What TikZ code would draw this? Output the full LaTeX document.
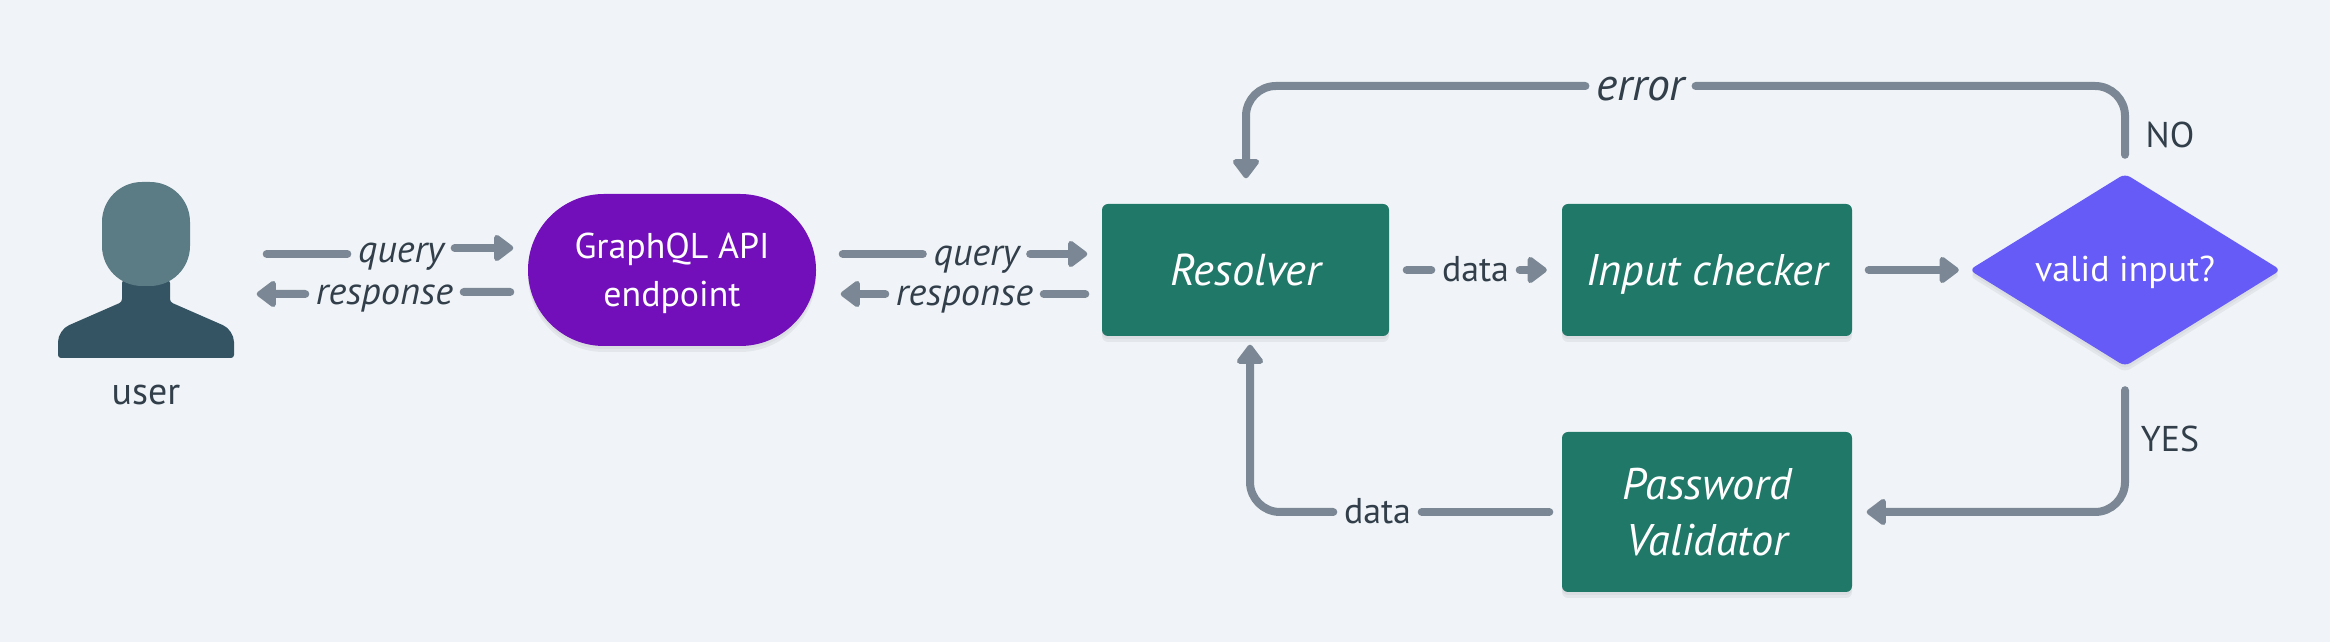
\documentclass[tikz,border=0pt]{standalone}
\usepackage{fontspec}
\setmainfont{PT Sans}
\usetikzlibrary{arrows.meta,shapes.geometric,shadows,calc}
\definecolor{bgcol}{HTML}{F0F4F8}
\definecolor{linecol}{HTML}{7B8794}
\definecolor{txtcol}{HTML}{323F4B}
\definecolor{boxcol}{HTML}{207868}
\definecolor{apicol}{HTML}{720EBA}
\definecolor{deccol}{HTML}{675BF7}
\definecolor{headcol}{HTML}{5B7B85}
\definecolor{bodycol}{HTML}{345363}
\tikzset{
softshadow/.style={general shadow={fill=black,opacity=.05,shadow yshift=-.06cm},general shadow={fill=black,opacity=.04,shadow yshift=-.03cm}},
procbox/.style={fill=boxcol,text=white,rounded corners=.06cm,align=center,softshadow,font=\fontsize{12.6}{15.9}\selectfont\itshape},
flowline/.style={line width=.08cm,linecol,line cap=round},
flowtip/.style={flowline,-{Triangle[length=.21cm,width=.30cm,round]}},
edgelab/.style={text=txtcol,inner xsep=.1cm,inner ysep=0pt,text height=.24cm,text depth=0pt,font=\fontsize{10.2}{12}\selectfont},
itlab/.style={edgelab,font=\fontsize{10.9}{12}\selectfont\itshape},
sidelab/.style={text=txtcol,font=\fontsize{10.2}{12}\selectfont}
}
\begin{document}
\begin{tikzpicture}[x=1cm,y=-1cm,line join=round]
\fill[bgcol] (0,0) rectangle (23.3,6.42);
\useasboundingbox (0,0) rectangle (23.3,6.42);
% user
\fill[bodycol,rounded corners=.03cm] (1.22,2.8) -- (1.22,3.02) [rounded corners=.12cm] -- (.58,3.30) [rounded corners=.03cm] -- (.58,3.58) -- (2.34,3.58) [rounded corners=.12cm] -- (2.34,3.30) [rounded corners=.03cm] -- (1.70,3.02) -- (1.70,2.8) -- cycle;
\fill[headcol,rounded corners=.4cm] (1.02,1.82) rectangle (1.90,2.86);
\node[minimum width=1.76cm,minimum height=1.76cm] (person) at (1.46,2.70) {};
\node[sidelab,font=\fontsize{10.8}{12}\selectfont] (usr) at (1.46,3.95) {user};
% nodes
\node[fill=apicol,text=white,rounded corners=.76cm,minimum width=2.88cm,minimum height=1.52cm,align=center,text depth=0pt,softshadow,font=\fontsize{10.2}{13.66}\selectfont] (api) at (6.72,2.70) {GraphQL API\\endpoint};
\node[procbox,text height=.32cm,text depth=0pt,font=\fontsize{12.7}{15.9}\selectfont\itshape,minimum width=2.87cm,minimum height=1.32cm] (res) at (12.455,2.70) {Resolver};
\node[procbox,text height=.32cm,text depth=0pt,minimum width=2.90cm,minimum height=1.32cm] (chk) at (17.07,2.70) {Input checker};
\node[procbox,minimum width=2.90cm,minimum height=1.60cm] (pwd) at (17.07,5.12) {Password\\Validator};
\node[diamond,aspect=1.617,fill=deccol,text=white,inner sep=0pt,text height=.24cm,text depth=0pt,rounded corners=.06cm,minimum width=3.12cm,minimum height=1.93cm,softshadow,font=\fontsize{10.2}{12}\selectfont] (dec) at (21.25,2.70) {valid input?};
% labels on the connectors
\node[itlab] (lq1) at (4.01,2.51) {query};
\node[itlab] (lr1) at (3.845,2.93) {response};
\node[itlab] (lq2) at (9.765,2.54) {query};
\node[itlab] (lr2) at (9.645,2.94) {response};
\node[edgelab] (ld1) at (14.755,2.70) {data};
\node[edgelab] (ld2) at (13.775,5.12) {data};
\node[itlab,text height=.30cm,font=\fontsize{13}{14}\selectfont\itshape] (lerr) at (16.405,.86) {error};
\node[sidelab] (lno) at (21.70,1.35) {NO};
\node[sidelab] (lyes) at (21.70,4.39) {YES};
% connectors
\draw[flowline,shorten <=.32cm] ([yshift=.16cm]person.east) -- ([yshift=-.03cm]lq1.west);
\draw[flowtip,shorten >=.14cm] ([yshift=.03cm]lq1.east) -- ([yshift=.22cm]api.west);
\draw[flowtip,shorten >=.22cm] ([yshift=-.01cm]lr1.west) -- ([yshift=-.24cm]person.east);
\draw[flowline,shorten >=.17cm] ([yshift=.01cm]lr1.east) -- ([yshift=-.22cm]api.west);
\draw[flowline,shorten <=.26cm] ([yshift=.16cm]api.east) -- (lq2);
\draw[flowtip,shorten >=.14cm] (lq2) -- ([yshift=.16cm]res.west);
\draw[flowtip,shorten >=.24cm] (lr2) -- ([yshift=-.24cm]api.east);
\draw[flowline,shorten >=.16cm] (lr2) -- ([yshift=-.24cm]res.west);
\draw[flowline,shorten <=.17cm] (res) -- (ld1);
\draw[flowtip,shorten >=.145cm] (ld1) -- (chk);
\draw[flowtip,shorten <=.16cm,shorten >=.095cm] (chk) -- (dec);
\draw[flowline,rounded corners=.3cm,shorten <=.18cm] (dec.north) -- (21.25,.86) -- (lerr);
\draw[flowtip,rounded corners=.3cm,shorten >=.25cm] (lerr) -- (12.46,.86) -- ([xshift=.005cm]res.north);
\draw[flowtip,rounded corners=.3cm,shorten <=.23cm,shorten >=.14cm] (dec.south) -- (21.25,5.12) -- (pwd.east);
\draw[flowline,shorten <=.12cm] (pwd) -- (ld2);
\draw[flowtip,rounded corners=.3cm,shorten >=.08cm] (ld2) -- (12.50,5.12) -- ([xshift=.045cm]res.south);
\end{tikzpicture}
\end{document}
